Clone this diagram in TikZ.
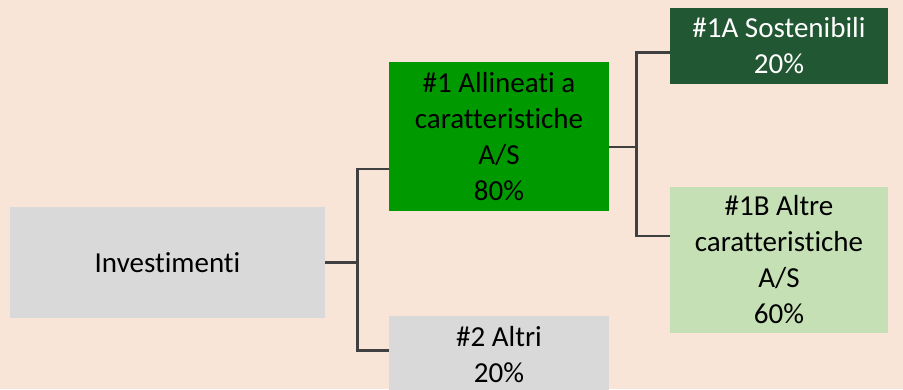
\documentclass[tikz,border=0pt]{standalone}
\usepackage{fontspec}
\setmainfont{Carlito}[Ligatures=NoCommon]
\usetikzlibrary{positioning}
\definecolor{peach}{HTML}{F9E5D7}
\definecolor{boxgrey}{HTML}{D9D9D9}
\definecolor{midgreen}{HTML}{009A00}
\definecolor{darkgreen}{HTML}{215732}
\definecolor{palegreen}{HTML}{C5E0B4}
\definecolor{linegrey}{HTML}{404040}
\tikzset{
  box/.style={rectangle, inner sep=0pt, align=center, text=black,
    font=\fontsize{29}{36}\selectfont},
  link/.style={draw=linegrey, line width=2.6pt}
}

\begin{document}
\begin{tikzpicture}[x=1pt,y=-1pt]
\useasboundingbox (0,0) rectangle (903,389);
\fill[peach] (0,0) rectangle (903,389);
\begin{scope}
\clip (0,0) rectangle (903,389);
\node(inv) [box, fill=boxgrey, minimum width=315pt, minimum height=111pt] at (167.5,262.5) {Investimenti};
\node(a1) [box, fill=midgreen, minimum width=220pt, minimum height=149pt] at (499,136.5) {\#1 Allineati a\\caratteristiche\\A/S\\80\%};
\node(a2) [box, fill=boxgrey, minimum width=220pt, minimum height=77pt] at (499,354.5) {\#2 Altri\\20\%};
\node(s1a) [box, fill=darkgreen, text=white, minimum width=218pt, minimum height=76pt] at (779,46) {\#1A Sostenibili\\20\%};
\node(s1b) [box, fill=palegreen, minimum width=218pt, minimum height=146pt] at (779,260) {\#1B Altre\\caratteristiche\\A/S\\60\%};
\end{scope}
% rami
\draw[link] (inv.east) -- ++(32,0) coordinate (j1);
\draw[link] (j1) |- ([yshift=-32.5pt]a1.west);
\draw[link] (j1) |- ([yshift=4pt]a2.west);
\draw[link] ([yshift=-10.5pt]a1.east) -- ++(27,0) coordinate (j2);
\draw[link] (j2) |- ([yshift=-6.5pt]s1a.west);
\draw[link] (j2) |- ([yshift=24pt]s1b.west);
\end{tikzpicture}
\end{document}
